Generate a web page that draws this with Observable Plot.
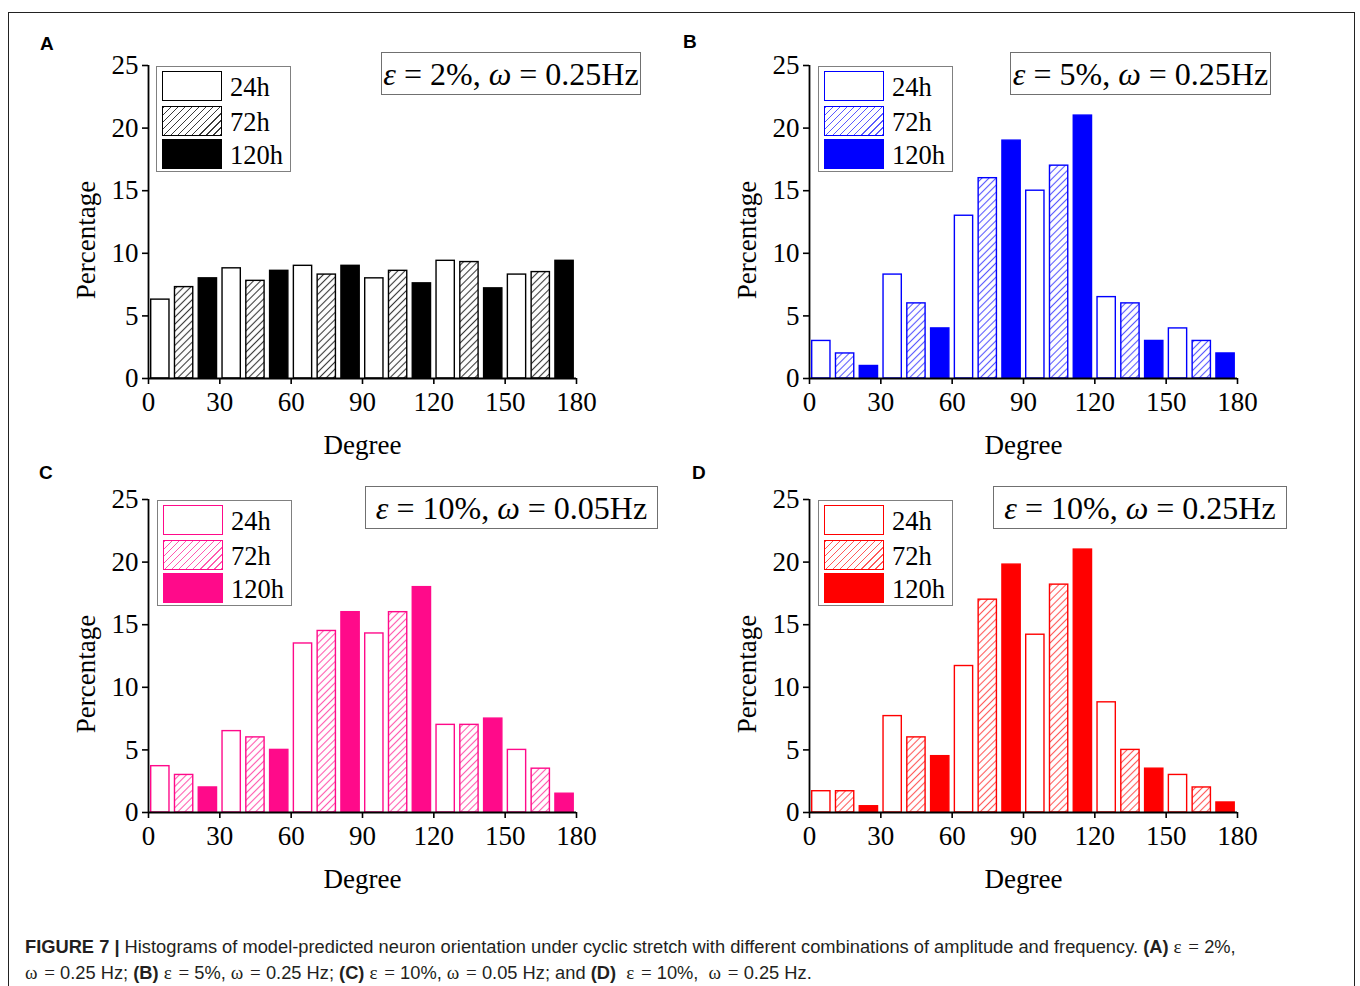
<!DOCTYPE html>
<html>
<head>
<meta charset="utf-8">
<script src="https://cdn.jsdelivr.net/npm/d3@7"></script>
<script src="https://cdn.jsdelivr.net/npm/@observablehq/plot@0.6"></script>
<style>
  html, body { margin: 0; padding: 0; background: #fff; overflow: hidden; }
  #root { position: relative; width: 1360px; height: 986px; overflow: hidden; background: #fff; }
  #frame { position: absolute; left: 8px; top: 12px; width: 1347px; height: 1000px; border: 1px solid #222; box-sizing: border-box; }
  .panel { position: absolute; }
  .tag { position: absolute; font-family: "Liberation Sans", Arial, sans-serif; font-weight: bold; font-size: 19px; line-height: 19px; color: #000; }
  .legend { position: absolute; width: 135px; height: 106px; border: 1px solid #808080; background: #fff; box-sizing: border-box; }
  .sw { position: absolute; left: 5px; width: 60px; height: 30px; box-sizing: border-box; border: 1.5px solid #000; }
  .lab { position: absolute; left: 73px; font-family: "Liberation Serif", "Times New Roman", serif; font-size: 26.5px; line-height: 32px; color: #000; }
  .note { position: absolute; height: 43px; border: 1px solid #707070; box-sizing: border-box; background: #fff;
          font-family: "Liberation Serif", "Times New Roman", serif; font-size: 32px; line-height: 40px; padding-top: 1px;
          text-align: center; white-space: nowrap; color: #000; }
  .note i { font-style: italic; }
  .caption { position: absolute; left: 25px; top: 934px; font-family: "Liberation Sans", Arial, sans-serif; font-size: 18.3px;
             line-height: 26px; color: #231f20; white-space: nowrap; }
  .caption .g { font-family: "Liberation Serif", "Times New Roman", serif; font-size: 19px; word-spacing: 2px; }
</style>
</head>
<body>
<div id="root">
  <div id="frame"></div>
</div>
<script>
// ---------------- data ----------------
const degreeBins = [0, 10, 20, 30, 40, 50, 60, 70, 80, 90, 100, 110, 120, 130, 140, 150, 160, 170];
const seriesNames = ["24h", "72h", "120h"];
const xTicks = [0, 30, 60, 90, 120, 150, 180];
const yTicks = [0, 5, 10, 15, 20, 25];

const valuesA = [6.3, 7.3, 8.0, 8.8, 7.8, 8.6, 9.0, 8.3, 9.0, 8.0, 8.6, 7.6, 9.4, 9.3, 7.2, 8.3, 8.5, 9.4];
const valuesB = [3.0, 2.0, 1.0, 8.3, 6.0, 4.0, 13.0, 16.0, 19.0, 15.0, 17.0, 21.0, 6.5, 6.0, 3.0, 4.0, 3.0, 2.0];
const valuesC = [3.7, 3.0, 2.0, 6.5, 6.0, 5.0, 13.5, 14.5, 16.0, 14.3, 16.0, 18.0, 7.0, 7.0, 7.5, 5.0, 3.5, 1.5];
const valuesD = [1.7, 1.7, 0.5, 7.7, 6.0, 4.5, 11.7, 17.0, 19.8, 14.2, 18.2, 21.0, 8.8, 5.0, 3.5, 3.0, 2.0, 0.8];

const panelTags = ["A", "B", "C", "D"];
const strainLabels = ["2%", "5%", "10%", "10%"];
const freqLabels = ["0.25Hz", "0.25Hz", "0.05Hz", "0.25Hz"];
const xLabel = "Degree";
const yLabel = "Percentage";

// ---------------- layout / style ----------------
const panels = [
  { tag: "A", values: valuesA, color: "#000000", hatch: "#3a3a3a", left: 20,  top: 30,  tagPos: [40, 34],  legend: [156, 66],  note: [381, 52, 260] },
  { tag: "B", values: valuesB, color: "#0000ff", hatch: "#5a5aff", left: 681, top: 30,  tagPos: [683, 32], legend: [818, 66],  note: [1010, 52, 261] },
  { tag: "C", values: valuesC, color: "#ff0a8a", hatch: "#ff5aaf", left: 20,  top: 464, tagPos: [39, 463], legend: [157, 500], note: [365, 486, 293] },
  { tag: "D", values: valuesD, color: "#ff0000", hatch: "#ff5a5a", left: 681, top: 464, tagPos: [692, 463], legend: [818, 500], note: [993, 486, 294] }
];

const root = document.getElementById("root");

panels.forEach((p, k) => {
  const rows = degreeBins.map((b, i) => ({ x1: b, x2: b + 10, series: seriesNames[i % 3], value: p.values[i] }));
  const hatchId = "hatch-" + p.tag;
  const common = { x1: "x1", x2: "x2", y1: 0, y2: "value", stroke: p.color, strokeWidth: 1.4, insetLeft: 2.7, insetRight: 2.8 };

  const svg = Plot.plot({
    width: 640,
    height: 440,
    marginLeft: 128,
    marginRight: 84,
    marginTop: 35,
    marginBottom: 92,
    style: { fontFamily: "'Liberation Serif','Times New Roman',serif", fontSize: "27px", color: "#000", background: "transparent", overflow: "visible" },
    x: { domain: [0, 180] },
    y: { domain: [0, 25] },
    marks: [
      Plot.rectY(rows.filter(d => d.series === seriesNames[0]), { ...common, fill: "white" }),
      Plot.rectY(rows.filter(d => d.series === seriesNames[1]), { ...common, fill: `url(#${hatchId})` }),
      Plot.rectY(rows.filter(d => d.series === seriesNames[2]), { ...common, fill: p.color }),
      Plot.ruleY([0], { stroke: "#000", strokeWidth: 1.8 }),
      Plot.ruleX([0], { stroke: "#000", strokeWidth: 1.8 }),
      Plot.axisX({ ticks: xTicks, tickSize: 6, tickPadding: 7, strokeWidth: 1.6, tickFormat: d => String(d),
                   label: xLabel, labelAnchor: "center", labelOffset: 75, labelArrow: "none" }),
      Plot.axisY({ ticks: yTicks, tickSize: 6, tickPadding: 4, strokeWidth: 1.6, tickFormat: d => String(d), label: null }),
      Plot.text([yLabel], { text: d => d, frameAnchor: "left", textAnchor: "middle", lineAnchor: "middle",
                            rotate: -90, dx: -62, dy: 18, fontSize: 27, fill: "#000" })
    ]
  });

  // hatch pattern definition
  const defs = d3.select(svg).insert("defs", ":first-child");
  const pat = defs.append("pattern")
    .attr("id", hatchId)
    .attr("patternUnits", "userSpaceOnUse")
    .attr("width", 5).attr("height", 5)
    .attr("patternTransform", "rotate(45)");
  pat.append("rect").attr("width", 5).attr("height", 5).attr("fill", "#fff");
  pat.append("line").attr("x1", 2.5).attr("y1", 0).attr("x2", 2.5).attr("y2", 5)
    .attr("stroke", p.hatch).attr("stroke-width", 1.1);

  const wrap = document.createElement("div");
  wrap.className = "panel";
  wrap.style.left = p.left + "px";
  wrap.style.top = p.top + "px";
  wrap.appendChild(svg);
  root.appendChild(wrap);

  // panel tag
  const tag = document.createElement("div");
  tag.className = "tag";
  tag.textContent = panelTags[k];
  tag.style.left = p.tagPos[0] + "px";
  tag.style.top = p.tagPos[1] + "px";
  root.appendChild(tag);

  // legend
  const lg = document.createElement("div");
  lg.className = "legend";
  lg.style.left = p.legend[0] + "px";
  lg.style.top = p.legend[1] + "px";
  const rowTops = [4, 39, 72];
  const fills = [
    "#fff",
    `repeating-linear-gradient(135deg, ${p.hatch} 0px, ${p.hatch} 1px, #fff 1px, #fff 5px)`,
    p.color
  ];
  seriesNames.forEach((s, i) => {
    const sw = document.createElement("div");
    sw.className = "sw";
    sw.style.top = rowTops[i] + "px";
    sw.style.borderColor = p.color;
    sw.style.background = fills[i];
    lg.appendChild(sw);
    const lb = document.createElement("div");
    lb.className = "lab";
    lb.style.top = rowTops[i] + "px";
    lb.textContent = s;
    lg.appendChild(lb);
  });
  root.appendChild(lg);

  // condition annotation
  const nt = document.createElement("div");
  nt.className = "note";
  nt.style.left = p.note[0] + "px";
  nt.style.top = p.note[1] + "px";
  nt.style.width = p.note[2] + "px";
  nt.innerHTML = `<i>ε</i> = ${strainLabels[k]}, <i>ω</i> = ${freqLabels[k]}`;
  root.appendChild(nt);
});

// caption
const cap = document.createElement("div");
cap.className = "caption";
cap.innerHTML =
  '<b>FIGURE 7 |</b> Histograms of model-predicted neuron orientation under cyclic stretch with different combinations of amplitude and frequency. <b>(A)</b> <span class="g">ε =</span> 2%,<br>' +
  '<span class="g">ω =</span> 0.25 Hz; <b>(B)</b> <span class="g">ε =</span> 5%, <span class="g">ω =</span> 0.25 Hz; <b>(C)</b> <span class="g">ε =</span> 10%, <span class="g">ω =</span> 0.05 Hz; and <b>(D)</b>&nbsp; <span class="g">ε =</span> 10%,&nbsp; <span class="g">ω =</span> 0.25 Hz.';
root.appendChild(cap);
</script>
</body>
</html>
